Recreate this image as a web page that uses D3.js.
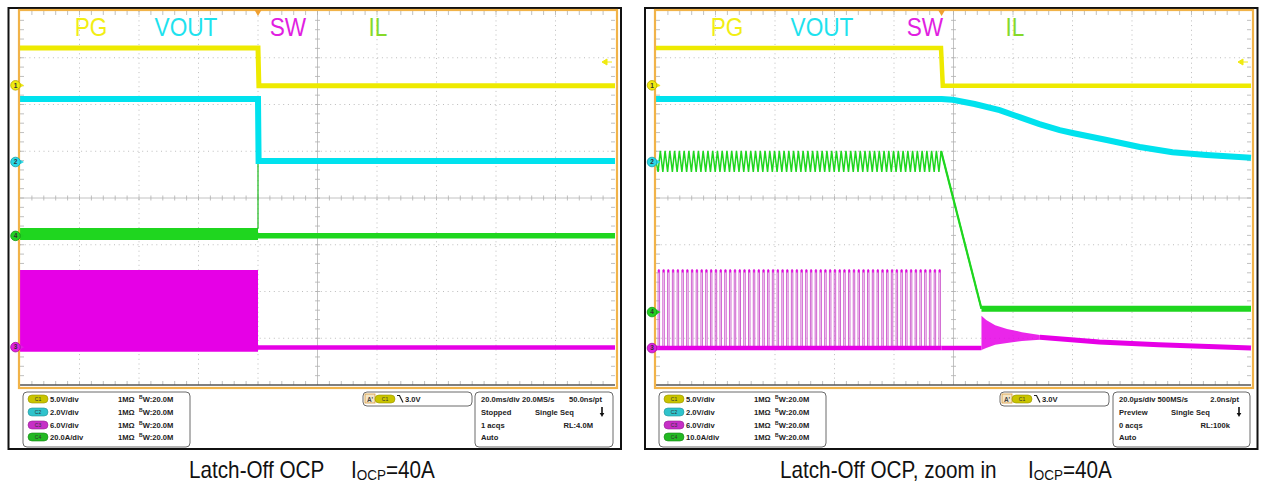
<!DOCTYPE html>
<html>
<head>
<meta charset="utf-8">
<script src="https://cdn.jsdelivr.net/npm/d3@7"></script>
<style>
  body { margin: 0; background: #fff; }
  svg { display: block; }
  text { font-family: "Liberation Sans", Arial, sans-serif; }
</style>
</head>
<body>
<svg id="scope" width="1266" height="489"></svg>
<script>
// levels are in graticule divisions (0 = screen centre, +4 top, -4 bottom)
const labels = ['PG', 'VOUT', 'SW', 'IL'];
const labelColors = ['#f2ee14', '#1ee2ee', '#e11fe1', '#86d92a'];
const pgColor = '#eeea00', voutColor = '#00e2ee', swColor = '#e600e6', ilColor = '#1fd61f';

// ---------- left shot: 20 ms/div, time in ms ----------
const lTime = [-80, 120];
const lPgT = [-80, 0, 0.3, 120];
const lPgV = [3.21, 3.21, 2.40, 2.40];
const lVoutT = [-80, 0, 0.2, 120];
const lVoutV = [2.12, 2.12, 0.79, 0.79];
const lIlBandT = [-80, 0];
const lIlBandHi = [-0.64, -0.64];
const lIlBandLo = [-0.90, -0.90];
const lIlSpikeT = [0, 0];
const lIlSpikeV = [-0.66, 0.78];
const lIlT = [0, 120];
const lIlV = [-0.81, -0.81];
const lSwBandT = [-80, 0];
const lSwBandHi = [-1.54, -1.54];
const lSwBandLo = [-3.29, -3.29];
const lSwT = [0, 120];
const lSwV = [-3.20, -3.20];
const lMarkers = [2.41, 0.77, -3.19, -0.81]; // ch1..ch4 ground marks

// ---------- right shot: 20 us/div, time in us ----------
const rTime = [-96, 104];
const rPgT = [-96, -0.2, 0.4, 104];
const rPgV = [3.21, 3.21, 2.40, 2.40];
const rVoutT = [-96, 0, 3.7, 11.1, 19.5, 26.2, 32.9, 39.7, 44.0, 55.5, 66.6, 77.6, 89.1, 104];
const rVoutV = [2.12, 2.12, 2.10, 2.01, 1.88, 1.73, 1.58, 1.45, 1.39, 1.24, 1.09, 0.98, 0.92, 0.86];
const rSwPulseT = [
  -95.3, -93.7, -92.1, -90.5, -88.9, -87.3, -85.7, -84.1, -82.5, -80.9,
  -79.3, -77.7, -76.1, -74.5, -72.9, -71.3, -69.7, -68.1, -66.5, -64.9,
  -63.3, -61.7, -60.1, -58.5, -56.9, -55.3, -53.7, -52.1, -50.5, -48.9,
  -47.3, -45.7, -44.1, -42.5, -40.9, -39.3, -37.7, -36.1, -34.5, -32.9,
  -31.3, -29.7, -28.1, -26.5, -24.9, -23.3, -21.7, -20.1, -18.5, -16.9,
  -15.3, -13.7, -12.1, -10.5, -8.9, -7.3, -5.7, -4.1, -2.5, -0.9
];
const swPulseWidth = 0.5;
const rSwBase = -3.21, rSwTop = -1.54;
const ilRise = 0.75;
const rIlHi = 1.01, rIlLo = 0.56;
const rIlFallT = [-0.15, 13.4];
const rIlFallV = [1.00, -2.37];
const rIlFlatT = [13.4, 104];
const rIlFlatV = [-2.37, -2.37];
const rSwIdleT = [0, 13.4];
const rSwIdleV = [-3.21, -3.21];
const rSwRingT = [13.4, 15, 18, 22, 27, 33];
const rSwRingHi = [-2.52, -2.61, -2.72, -2.80, -2.87, -2.93];
const rSwRingLo = [-3.25, -3.21, -3.14, -3.10, -3.06, -3.03];
const rSwTailT = [33, 53, 73, 104];
const rSwTailV = [-2.98, -3.08, -3.14, -3.21];
const rMarkers = [2.41, 0.77, -3.21, -2.44];

// ---------- readouts ----------
const chanNames = ['C1', 'C2', 'C3', 'C4'];
const chanPill = ['#c9c400', '#2fc3cc', '#c62fc6', '#22b822'];
const lScales = ['5.0V/div', '2.0V/div', '6.0V/div', '20.0A/div'];
const rScales = ['5.0V/div', '2.0V/div', '6.0V/div', '10.0A/div'];
const lTimebase = [['20.0ms/div 20.0MS/s', '50.0ns/pt'], ['Stopped', 'Single Seq'], ['1 acqs', 'RL:4.0M'], ['Auto', '']];
const rTimebase = [['20.0\u00b5s/div  500MS/s', '2.0ns/pt'], ['Preview', 'Single Seq'], ['0 acqs', 'RL:100k'], ['Auto', '']];
const trigLevel = '3.0V';
const lCaption = 'Latch-Off OCP';
const rCaption = 'Latch-Off OCP, zoom in';

const svg = d3.select('#scope');
svg.append('rect').attr('width', 1266).attr('height', 489).attr('fill', '#fff');

const zip = (a, b) => a.map((d, i) => [d, b[i]]);

function panel(cfg) {
  const g = svg.append('g');
  const x = d3.scaleLinear().domain(cfg.time).range([cfg.gx0, cfg.gx1]);
  const y = d3.scaleLinear().domain([-4, 4]).range([385, 11]);
  const line = d3.line().x(d => x(d[0])).y(d => y(d[1]));
  const area = d3.area().x(d => x(d[0])).y0(d => y(d[2])).y1(d => y(d[1]));

  // outer frame
  g.append('rect').attr('x', cfg.fx0).attr('y', 8).attr('width', cfg.fx1 - cfg.fx0).attr('height', 441)
    .attr('fill', '#fff').attr('stroke', '#111').attr('stroke-width', 2);

  // graticule
  const gx0 = cfg.gx0, gx1 = cfg.gx1, gy0 = 11, gy1 = 385;
  const dx = (gx1 - gx0) / 10, dy = (gy1 - gy0) / 8;
  const cx = gx0 + 5 * dx, cy = gy0 + 4 * dy;
  const grid = g.append('g');
  grid.selectAll('.vg').data(d3.range(1, 10).filter(i => i !== 5)).join('line')
    .attr('x1', i => gx0 + i * dx).attr('x2', i => gx0 + i * dx).attr('y1', gy0).attr('y2', gy1)
    .attr('stroke', '#bdbdbd').attr('stroke-dasharray', '1,3.7');
  grid.selectAll('.hg').data(d3.range(1, 8).filter(i => i !== 4)).join('line')
    .attr('y1', i => gy0 + i * dy).attr('y2', i => gy0 + i * dy).attr('x1', gx0).attr('x2', gx1)
    .attr('stroke', '#bdbdbd').attr('stroke-dasharray', '1,3.7');
  grid.append('line').attr('x1', cx).attr('x2', cx).attr('y1', gy0).attr('y2', gy1).attr('stroke', '#c2c2c2');
  grid.append('line').attr('y1', cy).attr('y2', cy).attr('x1', gx0).attr('x2', gx1).attr('stroke', '#c2c2c2');
  const mx = d3.range(1, 50).map(k => gx0 + k * dx / 5);
  const my = d3.range(1, 40).map(k => gy0 + k * dy / 5);
  const ticks = [];
  mx.forEach(v => {
    ticks.push([v, gy0, v, gy0 + 4], [v, gy1 - 4, v, gy1], [v, cy - 2.5, v, cy + 2.5]);
  });
  my.forEach(v => {
    ticks.push([gx0, v, gx0 + 4, v], [gx1 - 4, v, gx1, v], [cx - 2.5, v, cx + 2.5, v]);
  });
  grid.selectAll('.tk').data(ticks).join('line')
    .attr('x1', d => d[0]).attr('y1', d => d[1]).attr('x2', d => d[2]).attr('y2', d => d[3])
    .attr('stroke', '#b0b0b0').attr('stroke-width', 0.8);
  grid.append('line').attr('x1', gx0).attr('x2', gx1).attr('y1', gy1).attr('y2', gy1)
    .attr('stroke', '#555').attr('stroke-width', 1.5);

  // channel labels
  cfg.labelX.forEach((lx, i) => {
    g.append('text').attr('transform', `translate(${lx},36) scale(0.87,1)`)
      .attr('text-anchor', 'middle').attr('font-size', 26).attr('fill', labelColors[i]).text(labels[i]);
  });

  const tr = g.append('g');
  cfg.draw(tr, x, y, line, area);

  // orange plot border
  g.append('rect').attr('x', gx0 - 1).attr('y', 10).attr('width', gx1 - gx0 + 3).attr('height', 378)
    .attr('fill', 'none').attr('stroke', '#f1b349').attr('stroke-width', 2.2);

  // trigger position + level markers
  const tx = x(0);
  g.append('path').attr('d', `M${tx - 3.5},10 L${tx + 3.5},10 L${tx},16 Z`).attr('fill', '#f0a030');
  const ay = 62;
  g.append('path').attr('d', `M${gx1 - 13},${ay} l5,-3 v6 Z M${gx1 - 9},${ay} H${gx1 - 3}`)
    .attr('fill', '#f0ea10').attr('stroke', '#f0ea10').attr('stroke-width', 1);

  // ground markers
  const mcol = ['#f0ea10', '#2ad8e6', '#e020e0', '#22d022'];
  const mstroke = ['#b8a800', '#1aa0aa', '#a010a0', '#119911'];
  cfg.markers.forEach((lv, i) => {
    const m = g.append('g').attr('transform', `translate(${cfg.mx},${y(lv)})`);
    m.append('path').attr('d', 'M4,-2.6 L8.5,0 L4,2.6 Z').attr('fill', mcol[i]);
    m.append('circle').attr('r', 4.8).attr('fill', mcol[i]).attr('stroke', mstroke[i]).attr('stroke-width', 0.8);
    m.append('text').attr('y', 2.2).attr('text-anchor', 'middle').attr('font-size', 6.5)
      .attr('font-weight', 'bold').attr('fill', '#333').text(i + 1);
  });

  // readouts
  const ib = cfg.info;
  const rows = [399, 412, 425, 437];
  const box = (bx0, bx1, by0, by1) => g.append('rect').attr('x', bx0).attr('y', by0)
    .attr('width', bx1 - bx0).attr('height', by1 - by0).attr('rx', 4)
    .attr('fill', '#fff').attr('stroke', '#6a6a6a').attr('stroke-width', 1);
  const pill = (px, py, i) => {
    g.append('rect').attr('x', px).attr('y', py - 4).attr('width', 20).attr('height', 8).attr('rx', 4)
      .attr('fill', chanPill[i]).attr('stroke', d3.color(chanPill[i]).darker(0.8)).attr('stroke-width', 0.6);
    g.append('text').attr('x', px + 10).attr('y', py + 2).attr('text-anchor', 'middle')
      .attr('font-size', 5).attr('fill', '#333').text(chanNames[i]);
  };
  const small = (tx_, ty, s, anchor) => g.append('text').attr('x', tx_).attr('y', ty)
    .attr('font-size', 7.6).attr('font-weight', 'bold').attr('fill', '#222')
    .attr('text-anchor', anchor || 'start').text(s);

  box(ib.c0, ib.c1, 392, 447);
  cfg.scales.forEach((s, i) => {
    pill(ib.c0 + 5, rows[i], i);
    small(ib.c0 + 27, rows[i] + 2.7, s);
    small(ib.c0 + 95, rows[i] + 2.7, '1M\u03a9');
    const t = g.append('text').attr('x', ib.c0 + 116).attr('y', rows[i] + 2.7)
      .attr('font-size', 7.6).attr('font-weight', 'bold').attr('fill', '#222');
    t.append('tspan').attr('font-size', 5).attr('dy', -2.5).text('B');
    t.append('tspan').attr('dy', 3).text('W');
    t.append('tspan').attr('dy', -0.5).text(':20.0M');
  });

  box(ib.t0, ib.t1, 392, 406);
  g.append('rect').attr('x', ib.t0 + 2).attr('y', 394).attr('width', 10).attr('height', 9)
    .attr('fill', '#f4e6c8').attr('stroke', '#d89a3a').attr('stroke-width', 0.8);
  g.append('text').attr('x', ib.t0 + 7).attr('y', 401.5).attr('text-anchor', 'middle')
    .attr('font-size', 6.5).attr('font-weight', 'bold').attr('fill', '#444').text("A'");
  pill(ib.t0 + 12, 399, 0);
  g.append('path').attr('d', `M${ib.t0 + 34},395.5 h2.5 l3.5,7`).attr('fill', 'none')
    .attr('stroke', '#222').attr('stroke-width', 1.2);
  small(ib.t0 + 42, 401.7, trigLevel);

  box(ib.b0, ib.b1, 392, 447);
  cfg.timebase.forEach((r, i) => {
    small(ib.b0 + 6, rows[i] + 2.7, r[0]);
    if (i === 0) small(ib.b1 - 11, rows[i] + 2.7, r[1], 'end');
    if (i === 1) small(ib.b0 + ib.mid, rows[i] + 2.7, r[1]);
    if (i === 2) small(ib.b1 - 20, rows[i] + 2.7, r[1], 'end');
  });
  const ax = ib.b1 - 11, ay2 = rows[1];
  g.append('path').attr('d', `M${ax},${ay2 - 5} V${ay2 + 2}`).attr('stroke', '#111').attr('stroke-width', 1.6);
  g.append('path').attr('d', `M${ax - 2.3},${ay2 + 1} L${ax + 2.3},${ay2 + 1} L${ax},${ay2 + 5} Z`).attr('fill', '#111');

  // caption
  const cap = svg.append('g');
  cap.append('text').attr('transform', `translate(${cfg.cap0},478) scale(0.9,1)`)
    .attr('font-size', 23).attr('fill', '#111').text(cfg.caption);
  const ct = cap.append('text').attr('transform', `translate(${cfg.cap1},478) scale(0.9,1)`)
    .attr('font-size', 23).attr('fill', '#111');
  ct.append('tspan').text('I');
  ct.append('tspan').attr('font-size', 15).attr('dy', 1.5).text('OCP');
  ct.append('tspan').attr('dy', -1.5).text('=40A');
}

// left shot
panel({
  time: lTime, gx0: 20, gx1: 615, fx0: 8.5, fx1: 621, mx: 15.5,
  labelX: [91, 186, 288, 378], markers: lMarkers, scales: lScales, timebase: lTimebase,
  info: { c0: 23, c1: 190, t0: 363, t1: 472, b0: 475, b1: 613, mid: 60 },
  caption: lCaption, cap0: 189, cap1: 351,
  draw(tr, x, y, line, area) {
    tr.append('path').attr('d', area(lSwBandT.map((t, i) => [t, lSwBandHi[i], lSwBandLo[i]]))).attr('fill', swColor);
    tr.append('path').attr('d', line(zip(lSwT, lSwV))).attr('fill', 'none').attr('stroke', swColor).attr('stroke-width', 4.5);
    tr.append('path').attr('d', area(lIlBandT.map((t, i) => [t, lIlBandHi[i], lIlBandLo[i]]))).attr('fill', ilColor);
    tr.append('path').attr('d', line(zip(lIlT, lIlV))).attr('fill', 'none').attr('stroke', ilColor).attr('stroke-width', 5.5);
    tr.append('path').attr('d', line(zip(lIlSpikeT, lIlSpikeV))).attr('fill', 'none').attr('stroke', '#18b818').attr('stroke-width', 1.2);
    tr.append('path').attr('d', line(zip(lVoutT, lVoutV))).attr('fill', 'none').attr('stroke', voutColor).attr('stroke-width', 6);
    tr.append('path').attr('d', line(zip(lPgT, lPgV))).attr('fill', 'none').attr('stroke', pgColor).attr('stroke-width', 5);
  }
});

// right shot (zoom in)
panel({
  time: rTime, gx0: 656, gx1: 1251, fx0: 645, fx1: 1257.5, mx: 652,
  labelX: [727, 822, 925, 1015], markers: rMarkers, scales: rScales, timebase: rTimebase,
  info: { c0: 659, c1: 826, t0: 1000, t1: 1109, b0: 1113, b1: 1250, mid: 58 },
  caption: rCaption, cap0: 780, cap1: 1028,
  draw(tr, x, y, line, area) {
    // switch node pulses
    const pulses = [];
    rSwPulseT.forEach(t => {
      pulses.push([t, rSwBase], [t, rSwTop], [t + swPulseWidth, rSwTop], [t + swPulseWidth, rSwBase]);
    });
    tr.append('path').attr('d', line(pulses)).attr('fill', 'none').attr('stroke', '#cf62cf').attr('stroke-width', 1);
    tr.selectAll('.tip').data(rSwPulseT).join('line')
      .attr('x1', t => x(t)).attr('x2', t => x(t + swPulseWidth))
      .attr('y1', y(rSwTop) + 1).attr('y2', y(rSwTop) + 1)
      .attr('stroke', swColor).attr('stroke-width', 3);
    tr.append('path').attr('d', line([[rTime[0], rSwBase], [0, rSwBase]])).attr('fill', 'none')
      .attr('stroke', swColor).attr('stroke-width', 4.5);
    tr.append('path').attr('d', line(zip(rSwIdleT, rSwIdleV))).attr('fill', 'none').attr('stroke', swColor).attr('stroke-width', 4.5);
    tr.append('path').attr('d', area(rSwRingT.map((t, i) => [t, rSwRingHi[i], rSwRingLo[i]]))).attr('fill', swColor).attr('opacity', 0.85);
    tr.append('path').attr('d', line(zip(rSwTailT, rSwTailV))).attr('fill', 'none').attr('stroke', swColor).attr('stroke-width', 5);

    // inductor current
    const il = [[rTime[0], (rIlHi + rIlLo) / 2]];
    rSwPulseT.forEach(t => { il.push([t, rIlLo], [t + ilRise, rIlHi]); });
    il.push([rIlFallT[0], rIlFallV[0]], [rIlFallT[1], rIlFallV[1]]);
    tr.append('path').attr('d', line(il)).attr('fill', 'none').attr('stroke', ilColor).attr('stroke-width', 1.5);
    tr.append('path').attr('d', line(zip(rIlFallT, rIlFallV))).attr('fill', 'none').attr('stroke', ilColor).attr('stroke-width', 2.2);
    tr.append('path').attr('d', line(zip(rIlFlatT, rIlFlatV))).attr('fill', 'none').attr('stroke', ilColor).attr('stroke-width', 6);

    tr.append('path').attr('d', line(zip(rVoutT, rVoutV))).attr('fill', 'none').attr('stroke', voutColor).attr('stroke-width', 6);
    tr.append('path').attr('d', line(zip(rPgT, rPgV))).attr('fill', 'none').attr('stroke', pgColor).attr('stroke-width', 4.5);
  }
});
</script>
</body>
</html>
